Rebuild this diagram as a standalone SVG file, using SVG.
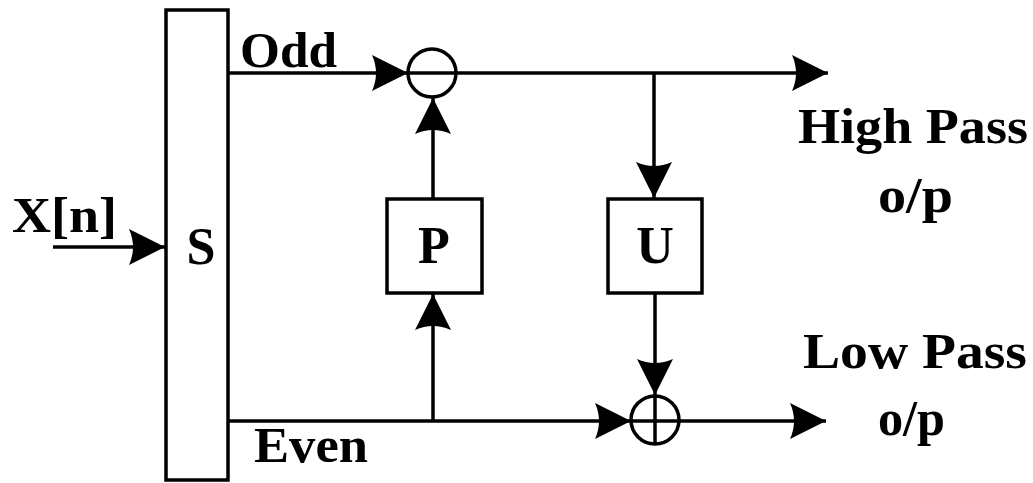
<svg xmlns="http://www.w3.org/2000/svg" width="1033" height="483" viewBox="0 0 1033 483">
  <style>
    .box { fill: #ffffff; stroke: #000000; stroke-width: 3.5; }
    .ring { fill: none; stroke: #000000; stroke-width: 3.5; }
    .wire { fill: none; stroke: #000000; stroke-width: 3.5; }
    .arrow { fill: none; stroke: #000000; stroke-width: 3.5; marker-end: url(#head); }
    text { font-family: "Liberation Serif", "Times New Roman", serif; font-weight: bold; fill: #000000; }
    .lbl { font-size: 52px; text-anchor: middle; }
    .tag { font-size: 50px; }
  </style>
  <defs>
    <marker id="head" markerUnits="userSpaceOnUse" markerWidth="40" markerHeight="40" refX="0" refY="0" viewBox="-37 -20 40 40" orient="auto" overflow="visible">
      <path d="M 0 0 L -36 -18 Q -28 0 -36 18 Z" fill="#000000"/>
    </marker>
  </defs>

  <!-- Split block -->
  <g id="split">
    <rect class="box" x="166" y="10" width="62" height="470"/>
    <text class="lbl" x="201" y="264">S</text>
  </g>

  <!-- Predict block -->
  <g id="predict">
    <rect class="box" x="387" y="199" width="95" height="94"/>
    <text class="lbl" x="434" y="263">P</text>
  </g>

  <!-- Update block -->
  <g id="update">
    <rect class="box" x="608" y="199" width="94" height="94"/>
    <text class="lbl" x="655" y="263">U</text>
  </g>

  <!-- Subtractor -->
  <g id="subtract">
    <circle class="ring" cx="432" cy="73" r="24"/>
  </g>

  <!-- Adder -->
  <g id="add">
    <circle class="ring" cx="655" cy="420" r="24"/>
    <line class="wire" x1="655" y1="396" x2="655" y2="444"/>
  </g>

  <!-- Signal paths -->
  <g id="connectors">
    <line class="arrow" x1="53" y1="247" x2="165" y2="247"/>
    <line class="arrow" x1="228" y1="73" x2="408" y2="73"/>
    <line class="arrow" x1="408" y1="73" x2="828" y2="73"/>
    <line class="arrow" x1="433" y1="199" x2="433" y2="98"/>
    <line class="arrow" x1="433" y1="421" x2="433" y2="294"/>
    <line class="arrow" x1="654" y1="73" x2="654" y2="198"/>
    <line class="arrow" x1="655" y1="293" x2="655" y2="395"/>
    <line class="arrow" x1="228" y1="421" x2="631" y2="421"/>
    <line class="arrow" x1="631" y1="421" x2="826" y2="421"/>
  </g>

  <!-- Labels -->
  <g id="labels">
    <text class="tag" x="240" y="67" textLength="97" lengthAdjust="spacingAndGlyphs">Odd</text>
    <text class="tag" x="254" y="462" font-size="54" textLength="114" lengthAdjust="spacingAndGlyphs">Even</text>
    <text class="tag" x="12" y="232" font-size="44" textLength="105" lengthAdjust="spacingAndGlyphs">X[n]</text>
    <text class="tag" x="798" y="143" font-size="44" textLength="230" lengthAdjust="spacingAndGlyphs">High Pass</text>
    <text class="tag" x="878" y="212" font-size="54" textLength="75" lengthAdjust="spacingAndGlyphs">o/p</text>
    <text class="tag" x="803" y="368" font-size="50" textLength="224" lengthAdjust="spacingAndGlyphs">Low Pass</text>
    <text class="tag" x="878" y="435" font-size="50" textLength="67" lengthAdjust="spacingAndGlyphs">o/p</text>
  </g>
</svg>
